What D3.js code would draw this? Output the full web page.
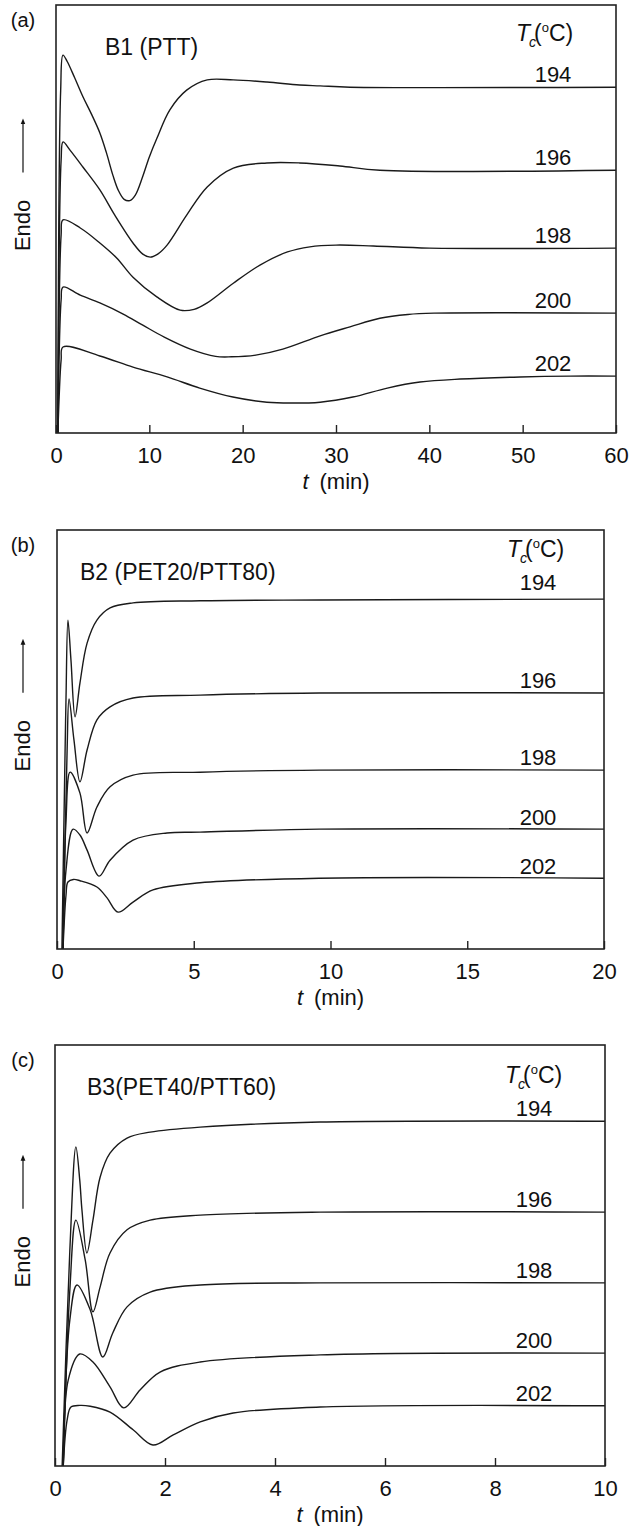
<!DOCTYPE html>
<html>
<head>
<meta charset="utf-8">
<script src="https://cdn.jsdelivr.net/npm/d3@7"></script>
<style>
  html, body { margin: 0; padding: 0; background: #fff; }
  svg text { font-family: "Liberation Sans", Arial, Helvetica, sans-serif; fill: #111; }
</style>
</head>
<body>
<svg id="chart" width="630" height="1526"></svg>
<script>
// ---------- DATA (t in min, heat flow in arbitrary units 0..100) ----------
const temps = ["194", "196", "198", "200", "202"];

const ticksA = [0, 10, 20, 30, 40, 50, 60];
const ticksB = [0, 5, 10, 15, 20];
const ticksC = [0, 2, 4, 6, 8, 10];

// Panel (a) B1 (PTT)
const a194 = [[0.2,0],[0.5,80],[0.75,88.3],[1.2,86.8],[2.0,83.0],[2.9,78.5],[3.8,74.5],[4.7,70.1],[5.4,65.5],[6.1,60.2],[6.7,56.6],[7.3,54.6],[7.9,54.3],[8.5,55.6],[9.3,60.0],[10.0,64.5],[10.8,68.8],[12.2,75.5],[14.0,80.1],[16.2,82.5],[19.0,82.5],[22.6,82.0],[26.1,81.3],[28.3,81.1],[31.5,80.8],[60,80.8]];
const a196 = [[0.2,0],[0.55,63.8],[0.75,68.0],[1.5,66.1],[2.9,62.1],[4.7,56.8],[6.3,50.9],[8.25,44.4],[9.3,41.8],[10.1,41.1],[10.9,41.8],[11.9,43.9],[14.0,50.9],[16.2,57.5],[19.0,61.9],[22.6,63.1],[26.1,63.1],[30.4,62.4],[34.7,61.4],[60,61.4]];
const a198 = [[0.2,0],[0.55,46.3],[0.75,49.8],[2.6,47.9],[4.7,44.4],[6.5,40.9],[8.25,36.4],[10.8,31.8],[13.3,28.7],[14.8,28.9],[16.2,30.4],[19.0,35.0],[21.9,39.3],[24.8,42.3],[27.2,43.5],[30,43.9],[34,43.7],[40,43.2],[60,43.2]];
const a200 = [[0.2,0],[0.55,31.1],[0.75,34.1],[2.6,32.2],[4.7,30.4],[7.2,27.8],[9.3,25.2],[11.6,22.4],[14.4,19.6],[17.1,17.9],[18.8,17.8],[21.4,18.2],[24.3,19.6],[28.3,22.7],[31.5,24.8],[34.7,26.8],[37.7,27.7],[40.5,28.0],[60,28.0]];
const a202 = [[0.2,0],[0.55,17.1],[0.75,20.1],[4.7,18.0],[8.25,15.4],[11.9,13.1],[15.4,10.5],[18.95,8.4],[22.6,7.2],[25.1,7.0],[28.3,7.2],[31.8,8.4],[35.5,10.5],[39.0,11.9],[43.3,12.6],[49.7,13.1],[55.1,13.3],[60,13.3]];

// Panel (b) B2 (PET20/PTT80)
const b194 = [[0.18,0],[0.29,45],[0.33,60],[0.40,78.5],[0.51,69.0],[0.66,55.4],[0.84,63.5],[1.10,73.0],[1.46,78.5],[1.94,81.4],[2.78,82.6],[5.23,83.1],[9.6,83.3],[20,83.5]];
const b196 = [[0.22,0],[0.37,47.5],[0.44,59.7],[0.62,49.9],[0.84,39.9],[1.10,47.5],[1.46,54.7],[1.94,57.8],[2.78,59.9],[5.23,60.6],[9.6,61.1],[20,61.1]];
const b198 = [[0.22,0],[0.33,30.8],[0.48,42.2],[0.84,37.2],[1.10,27.7],[1.46,33.9],[1.94,38.7],[2.78,41.5],[5.23,42.2],[9.6,42.7],[20,42.7]];
const b200 = [[0.22,0],[0.33,18.9],[0.59,28.6],[0.84,27.2],[1.10,23.6],[1.54,17.4],[1.94,21.2],[2.78,26.0],[4.02,27.7],[5.23,27.9],[9.6,28.6],[20,28.6]];
const b202 = [[0.22,0],[0.33,12.9],[0.40,16.0],[0.6,16.6],[0.84,16.3],[1.46,14.8],[1.83,12.2],[2.23,8.8],[2.78,11.2],[3.51,14.1],[5.23,15.8],[9.6,16.9],[20,16.9]];

// Panel (c) B3 (PET40/PTT60)
const c194 = [[0.13,0],[0.27,51.3],[0.38,75.8],[0.45,67.9],[0.49,60.8],[0.58,50.6],[0.69,58.4],[0.82,68.6],[1.0,74.3],[1.31,77.9],[1.73,79.3],[2.64,80.5],[4.82,81.7],[10,81.9]];
const c196 = [[0.15,0],[0.27,41.8],[0.38,58.4],[0.55,48.9],[0.69,36.6],[0.82,42.5],[1.0,50.6],[1.31,56.1],[1.73,58.4],[2.64,59.6],[4.82,60.3],[10,60.3]];
const c198 = [[0.15,0],[0.27,34.7],[0.4,43.0],[0.64,37.1],[0.87,25.9],[1.05,31.6],[1.31,37.8],[1.73,41.3],[2.64,43.0],[4.82,43.5],[10,43.5]];
const c200 = [[0.15,0],[0.24,20.4],[0.45,26.6],[0.69,24.7],[1.0,18.8],[1.25,13.8],[1.55,18.1],[1.91,22.3],[2.64,24.7],[4.82,26.4],[10,26.8]];
const c202 = [[0.15,0],[0.22,10.9],[0.29,14.0],[0.45,14.4],[0.64,14.2],[1.0,12.8],[1.42,8.6],[1.78,5.0],[2.15,7.4],[2.64,10.5],[3.24,12.6],[4.82,14.0],[10,14.3]];

// ---------- LAYOUT ----------
const panels = [
  { tag: "(a)", title: "B1 (PTT)", xmax: 60, ticks: ticksA, series: [a194, a196, a198, a200, a202],
    left: 56, right: 616, top: 5, bottom: 433, titleX: 105, labelX: 553, tcX: 516, tcY: 36, labelLift: [5, 5, 5, 5, 5] },
  { tag: "(b)", title: "B2 (PET20/PTT80)", xmax: 20, ticks: ticksB, series: [b194, b196, b198, b200, b202],
    left: 57, right: 604, top: 530, bottom: 949, titleX: 80, labelX: 538, tcX: 507, tcY: 27, labelLift: [9, 5, 5, 4, 4] },
  { tag: "(c)", title: "B3(PET40/PTT60)", xmax: 10, ticks: ticksC, series: [c194, c196, c198, c200, c202],
    left: 55, right: 605, top: 1045, bottom: 1466, titleX: 87, labelX: 534, tcX: 505, tcY: 38, labelLift: [5, 5, 5, 5, 5] }
];

const svg = d3.select("#chart");
const FONT = 22;

const defs = svg.append("defs");
defs.append("marker")
  .attr("id", "arrow").attr("viewBox", "0 0 10 10")
  .attr("refX", 5).attr("refY", 5)
  .attr("markerWidth", 5).attr("markerHeight", 7)
  .attr("orient", "auto")
  .append("path").attr("d", "M0,1 L10,5 L0,9 Z").attr("fill", "#111");

panels.forEach((p, i) => {
  const x = d3.scaleLinear().domain([0, p.xmax]).range([p.left, p.right]);
  const y = d3.scaleLinear().domain([0, 100]).range([p.bottom, p.top]);
  const g = svg.append("g");

  const clipId = "clip" + i;
  defs.append("clipPath").attr("id", clipId)
    .append("rect").attr("x", p.left).attr("y", p.top)
    .attr("width", p.right - p.left).attr("height", p.bottom - p.top);

  // curves
  const line = d3.line().x(d => x(d[0])).y(d => y(d[1])).curve(d3.curveCatmullRom.alpha(0.5));
  g.append("g").attr("clip-path", `url(#${clipId})`)
    .selectAll("path").data(p.series).join("path")
    .attr("d", line)
    .attr("fill", "none").attr("stroke", "#1a1a1a").attr("stroke-width", 1.4)
    .attr("stroke-linejoin", "round");

  // x axis with inward ticks
  const ax = g.append("g").attr("transform", `translate(0,${p.bottom})`)
    .call(d3.axisBottom(x).tickValues(p.ticks).tickFormat(d3.format("d"))
      .tickSizeInner(-8).tickSizeOuter(0).tickPadding(14));
  ax.select(".domain").remove();
  ax.selectAll(".tick line").attr("stroke", "#222").attr("stroke-width", 1.4);
  ax.selectAll(".tick text").attr("font-size", FONT).attr("fill", "#111")
    .style("font-family", "'Liberation Sans', Arial, sans-serif");

  // frame
  g.append("rect").attr("x", p.left).attr("y", p.top)
    .attr("width", p.right - p.left).attr("height", p.bottom - p.top)
    .attr("fill", "none").attr("stroke", "#222").attr("stroke-width", 1.6);

  // x-axis title
  const xt = g.append("text").attr("x", (p.left + p.right) / 2).attr("y", p.bottom + 56)
    .attr("text-anchor", "middle").attr("font-size", FONT);
  xt.append("tspan").attr("font-style", "italic").text("t");
  xt.append("tspan").text("\u2002(min)");

  // Endo label + arrow
  const endoY = p.top + (p.bottom - p.top) * 0.515;
  g.append("text").attr("transform", `translate(30,${endoY}) rotate(-90)`)
    .attr("text-anchor", "middle").attr("font-size", FONT).text("Endo");
  g.append("line").attr("x1", 23).attr("x2", 23)
    .attr("y1", endoY - 53).attr("y2", endoY - 104)
    .attr("stroke", "#111").attr("stroke-width", 1.2)
    .attr("marker-end", "url(#arrow)");

  // panel tag
  g.append("text").attr("x", 23).attr("y", p.top + 22).attr("text-anchor", "middle")
    .attr("font-size", 20).text(p.tag);

  // title
  g.append("text").attr("x", p.titleX).attr("y", p.top + 50)
    .attr("font-size", 23).text(p.title);

  // T_c legend header
  const tc = g.append("text").attr("x", p.tcX).attr("y", p.top + p.tcY).attr("font-size", 23);
  tc.append("tspan").attr("font-style", "italic").text("T");
  tc.append("tspan").attr("font-style", "italic").attr("font-size", 14).attr("dy", 6).attr("dx", -1).text("c");
  tc.append("tspan").attr("dy", -6).attr("dx", -2).text("(");
  tc.append("tspan").attr("font-size", 13).attr("dy", -9).text("o");
  tc.append("tspan").attr("dy", 9).text("C)");

  // curve labels, sitting just above each curve's final level
  g.selectAll("text.lab").data(p.series).join("text").attr("class", "lab")
    .attr("x", p.labelX)
    .attr("y", (d, k) => y(d[d.length - 1][1]) - p.labelLift[k])
    .attr("text-anchor", "middle").attr("font-size", FONT)
    .text((d, k) => temps[k]);
});
</script>
</body>
</html>
